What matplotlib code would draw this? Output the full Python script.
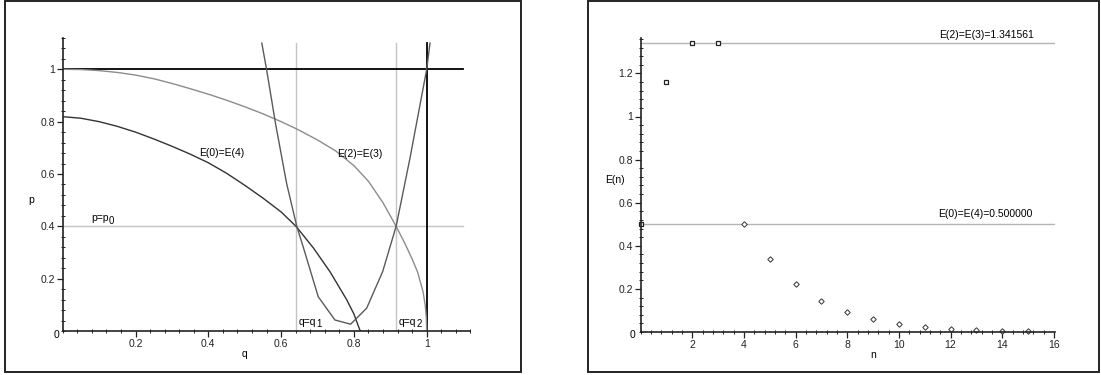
#
#   Two Maple-style panels: equilibrium curves in the (q, p) plane
#   and the sequence E(n) with its two repeated levels
#

import matplotlib
matplotlib.use("Agg")
from matplotlib import pyplot as plt
from matplotlib.patches import Rectangle
from matplotlib.ticker import MultipleLocator, FixedLocator, FuncFormatter

#   DATA
# curve E(2)=E(3)
q_e23 = [0.0, 0.05, 0.1, 0.15, 0.2, 0.25, 0.3, 0.35, 0.4, 0.45, 0.5, 0.55, 0.6, 0.643,
         0.7, 0.75, 0.8, 0.84, 0.88, 0.916, 0.94, 0.96, 0.975, 0.99, 0.996, 0.999, 1.0]
p_e23 = [1.0, 0.999, 0.995, 0.988, 0.978, 0.964, 0.946, 0.926, 0.905, 0.882, 0.857, 0.83, 0.80, 0.772,
         0.73, 0.688, 0.632, 0.572, 0.49, 0.40, 0.335, 0.275, 0.225, 0.15, 0.097, 0.049, 0.0]
# curve E(0)=E(4)
q_e04 = [0.0, 0.05, 0.1, 0.15, 0.2, 0.25, 0.3, 0.35, 0.4, 0.45, 0.5, 0.55, 0.6, 0.641,
         0.69, 0.735, 0.78, 0.80, 0.82]
p_e04 = [0.819, 0.813, 0.800, 0.782, 0.76, 0.734, 0.706, 0.676, 0.643, 0.603, 0.557, 0.508, 0.455, 0.40,
         0.315, 0.225, 0.12, 0.065, -0.01]
# the coarse polyline through both crossings
q_poly = [0.547, 0.56, 0.585, 0.615, 0.643, 0.661, 0.702, 0.748, 0.791, 0.835, 0.879, 0.916, 0.954, 1.0, 1.009]
p_poly = [1.10, 1.0, 0.79, 0.565, 0.40, 0.32, 0.131, 0.042, 0.026, 0.087, 0.227, 0.40, 0.66, 1.0, 1.10]
# reference lines
q1, q2, p0 = 0.642, 0.916, 0.4

# E(n) sequence
n_top = [0, 1, 2, 3]
E_top = [0.5, 1.158, 1.341561, 1.341561]
n_tail = [4, 5, 6, 7, 8, 9, 10, 11, 12, 13, 14, 15]
E_tail = [0.5, 0.338, 0.223, 0.146, 0.095, 0.061, 0.039, 0.025, 0.016, 0.010, 0.006, 0.004]
E23, E04 = 1.341561, 0.5

#   STYLE
plt.rcParams["font.family"] = ["Liberation Sans", "DejaVu Sans"]
fs = 7.5
W, H = 1101, 375

fig = plt.figure(figsize=(W / 100, H / 100), dpi=100)

# frames round both panels (pixel boxes)
for x0, x1 in [(5, 521), (588, 1099)]:
    fig.patches.append(Rectangle((x0 / W, 1 - 372 / H), (x1 - x0) / W, 371 / H,
                                 transform=fig.transFigure, fill=False,
                                 edgecolor="#222222", linewidth=1.4))

fmt = FuncFormatter(lambda v, pos: "%g" % round(v, 6))

def maple_axes(ax):
    # only the two axes through the origin, ticks crossing them
    for s in ["top", "right"]:
        ax.spines[s].set_visible(False)
    for s in ["left", "bottom"]:
        ax.spines[s].set_linewidth(1.2)
        ax.spines[s].set_color("#222222")
    ax.tick_params(which="major", direction="out", length=4, width=0.9,
                   labelsize=fs, pad=1.5, colors="#222222")
    ax.tick_params(which="minor", direction="inout", length=3, width=0.7, colors="#222222")
    ax.xaxis.set_major_formatter(fmt)
    ax.yaxis.set_major_formatter(fmt)
    ax.patch.set_alpha(0)

def sub_label(ax, x, y, main, sub):
    # Maple writes the index almost full size, a bit lower
    t = ax.text(x, y, main, fontsize=fs, va="center")
    fig.canvas.draw()
    bb = t.get_window_extent()
    ax.annotate(sub, xy=(bb.x1, bb.y0), xycoords="figure pixels",
                xytext=(0.3, 2.0), textcoords="offset points",
                fontsize=fs * 0.92, va="center")

#   LEFT PANEL
ax = fig.add_axes([62.7 / W, 44 / H, 1.12 * 364 / W, 1.12 * 261.7 / H])
ax.set_xlim(0, 1.12)
ax.set_ylim(0, 1.12)
maple_axes(ax)
ax.xaxis.set_major_locator(FixedLocator([0.2, 0.4, 0.6, 0.8, 1.0]))
ax.yaxis.set_major_locator(FixedLocator([0.2, 0.4, 0.6, 0.8, 1.0]))
ax.xaxis.set_minor_locator(MultipleLocator(0.04))
ax.yaxis.set_minor_locator(MultipleLocator(0.04))

ax.plot([0, 1.1], [p0, p0], color="#c4c4c4", lw=1.0)
ax.plot([q1, q1], [0, 1.1], color="#c4c4c4", lw=1.0)
ax.plot([q2, q2], [0, 1.1], color="#c4c4c4", lw=1.0)
ax.plot([0, 1.1], [1, 1], color="black", lw=1.3)
ax.plot([1, 1], [0, 1.1], color="black", lw=1.3)
ax.plot(q_e23, p_e23, color="#8c8c8c", lw=1.0)
ax.plot(q_e04, p_e04, color="#333333", lw=1.0)
ax.plot(q_poly, p_poly, color="#5a5a5a", lw=1.0)

ax.text(0.374, 0.679, "E(0)=E(4)", fontsize=fs, va="center")
ax.text(0.755, 0.676, "E(2)=E(3)", fontsize=fs, va="center")
ax.text(0.5, -0.088, "q", fontsize=fs, ha="center", va="center", clip_on=False)
ax.text(-0.088, 0.5, "p", fontsize=fs, ha="center", va="center", clip_on=False)
ax.text(-0.017, -0.015, "0", fontsize=fs, ha="center", va="center", clip_on=False)

#   RIGHT PANEL
bx = fig.add_axes([640.6 / W, 43 / H, 16.05 * 25.83 / W, 1.363 * 215.5 / H])
bx.set_xlim(0, 16.05)
bx.set_ylim(0, 1.363)
maple_axes(bx)
bx.xaxis.set_major_locator(FixedLocator([2, 4, 6, 8, 10, 12, 14, 16]))
bx.yaxis.set_major_locator(FixedLocator([0.2, 0.4, 0.6, 0.8, 1.0, 1.2]))
bx.xaxis.set_minor_locator(MultipleLocator(0.4))
bx.yaxis.set_minor_locator(MultipleLocator(0.04))

bx.plot([0, 16], [E23, E23], color="#b4b4b4", lw=1.0)
bx.plot([0, 16], [E04, E04], color="#b4b4b4", lw=1.0)
bx.plot(n_top, E_top, ls="none", marker="s", ms=2.6, mfc="white",
        mec="#222222", mew=0.9, clip_on=False)
bx.plot(n_tail, E_tail, ls="none", marker="D", ms=2.8, mfc="white",
        mec="#333333", mew=0.7, clip_on=False)

bx.text(15.23, 1.378, "E(2)=E(3)=1.341561", fontsize=fs, ha="right", va="center")
bx.text(15.19, 0.546, "E(0)=E(4)=0.500000", fontsize=fs, ha="right", va="center")
bx.text(9, -0.107, "n", fontsize=fs, ha="center", va="center", clip_on=False)
bx.text(-0.99, 0.706, "E(n)", fontsize=fs, ha="center", va="center", clip_on=False)
bx.text(-0.31, -0.016, "0", fontsize=fs, ha="center", va="center", clip_on=False)

# subscripted labels last, after the layout is fixed
sub_label(ax, 0.0775, 0.43, "p=p", "0")
sub_label(ax, 0.647, 0.035, "q=q", "1")
sub_label(ax, 0.922, 0.035, "q=q", "2")

fig.savefig("out.png", dpi=100)
